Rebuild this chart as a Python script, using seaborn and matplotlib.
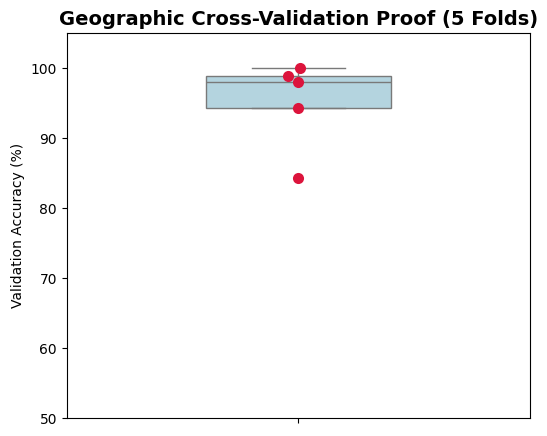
import numpy as np
import pandas as pd
import matplotlib
matplotlib.use('Agg')
import matplotlib.pyplot as plt
import seaborn as sns

# Fold accuracies
folds = ['Fold 1', 'Fold 2', 'Fold 3', 'Fold 4', 'Fold 5']
accuracy = [100.0, 98.9, 98.0, 94.3, 84.3]

df = pd.DataFrame({'fold': folds, 'accuracy': accuracy})

# pick a jitter seed that spreads the points roughly like the original
jit = 0.05
wanted = np.array([0.0, -0.0216, 0.0, 0.0, 0.0])
best_seed, best_err = 0, np.inf
for s in range(300000):
    rs = np.random.RandomState(s)
    err = np.abs(rs.uniform(-jit, jit, len(accuracy)) - wanted).max()
    if err < best_err:
        best_seed, best_err = s, err

fig, ax = plt.subplots(figsize=(5.47, 4.36), dpi=100)

sns.boxplot(y=df['accuracy'], color='lightblue', width=0.4, showfliers=False, ax=ax)

np.random.seed(best_seed)
sns.stripplot(y=df['accuracy'], color='crimson', size=8, jitter=jit, ax=ax)

ax.set_ylim(50, 105)
ax.set_ylabel('Validation Accuracy (%)')
ax.set_xlabel('')
ax.set_title('Geographic Cross-Validation Proof (5 Folds)', fontsize=14, fontweight='bold')

fig.subplots_adjust(left=0.122, right=0.969, top=0.924, bottom=0.041)
fig.savefig('out.png', dpi=100)
